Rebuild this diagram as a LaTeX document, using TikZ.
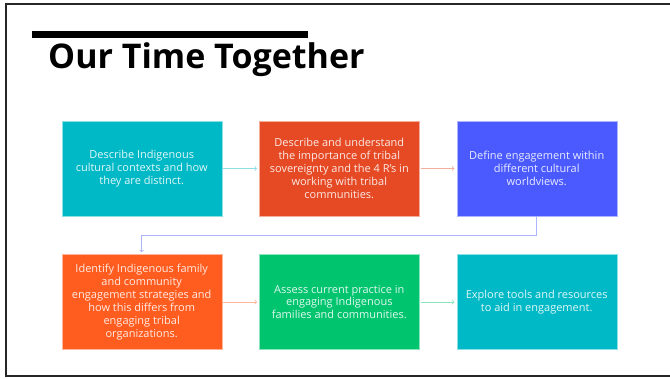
\documentclass[tikz,border=0pt]{standalone}
\usepackage{fontspec}
\setmainfont{Open Sans}
\usepackage{tikz}
\definecolor{tealbox}{RGB}{0,185,198}
\definecolor{redbox}{RGB}{229,74,36}
\definecolor{bluebox}{RGB}{74,90,255}
\definecolor{orangebox}{RGB}{255,92,31}
\definecolor{greenbox}{RGB}{0,196,110}

\begin{document}
\begin{tikzpicture}[x=1pt, y=-1pt,
	box/.style={fill=#1, draw=white!55!#1, text=white!88!#1, minimum width=160pt,
		minimum height=95pt, inner sep=0pt, align=center,
		font=\fontsize{11}{12.9}\selectfont},
	link/.style={draw=white!55!#1, ->, line width=0.8pt, shorten <=1pt, shorten >=2pt}]
	\useasboundingbox (0,0) rectangle (670,378);
	\draw[line width=2pt, black!85] (6,3.5) rectangle (690,376);
	\fill (32,31) rectangle (308,38);
	\node[anchor=base west, inner sep=0pt, font=\fontsize{34}{40}\selectfont\bfseries] (title) at (48,68) {Our Time Together};
	% first row
	\node[box=tealbox] (ctx) at (141.7,168.5) {Describe Indigenous\\cultural contexts and how\\they are distinct.};
	\node[box=redbox] (sov) at (339.3,168.5) {Describe and understand\\the importance of tribal\\sovereignty and the 4 R’s in\\working with tribal\\communities.};
	\node[box=bluebox] (eng) at (536.7,168.5) {Define engagement within\\different cultural\\worldviews.};
	% second row
	\node[box=orangebox] (strat) at (141.7,302) {Identify Indigenous family\\and community\\engagement strategies and\\how this differs from\\engaging tribal\\organizations.};
	\node[box=greenbox] (prac) at (339.3,302) {Assess current practice in\\engaging Indigenous\\families and communities.};
	\node[box=tealbox] (tools) at (536.7,302) {Explore tools and resources\\to aid in engagement.};
	\draw (ctx) edge[link=tealbox] (sov);
	\draw (sov) edge[link=redbox] (eng);
	\draw[link=bluebox] (eng.south) -- ++(0,19) -| (strat.north);
	\draw (strat) edge[link=orangebox] (prac);
	\draw (prac) edge[link=greenbox] (tools);
\end{tikzpicture}
\end{document}
